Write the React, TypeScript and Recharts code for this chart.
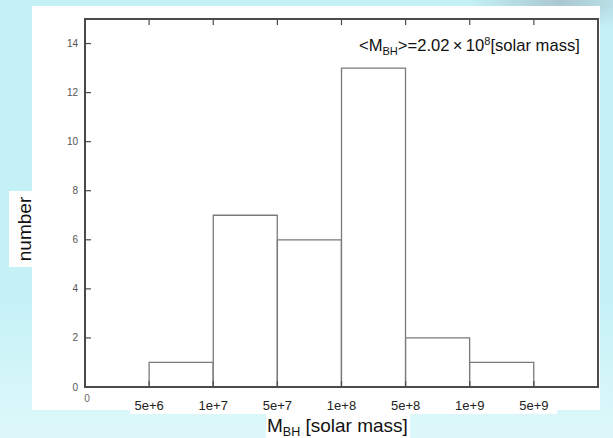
import { BarChart, Bar, XAxis, YAxis } from "recharts";

// histogram of black hole masses, bins between these edges
const BIN_EDGES = ["0", "5e+6", "1e+7", "5e+7", "1e+8", "5e+8", "1e+9", "5e+9", ""];
const COUNTS = [0, 1, 7, 6, 13, 2, 1, 0];
const Y_TICKS = [0, 2, 4, 6, 8, 10, 12, 14];
const EDGE_TICKS = [0, 1, 2, 3, 4, 5, 6, 7, 8];
const Y_MAX = 15;
const X_MAX = 8;

const data = COUNTS.map((count, i) => ({
  bin: `${BIN_EDGES[i]}-${BIN_EDGES[i + 1]}`,
  mid: i + 0.5,
  count,
}));

const FONT = "'Liberation Sans', Arial, Helvetica, sans-serif";
const AXIS = "#4a4a4a";

function BottomTick({ x, y, payload }: any) {
  const v = payload.value;
  return (
    <g>
      {v > 0 && v < 8 && (
        <line x1={x} x2={x} y1={y} y2={y - 6} stroke={AXIS} strokeWidth={1.2} />
      )}
      {v === 0 ? (
        <text x={x + 2} y={y + 15} fontSize={10} fill="#666" textAnchor="middle" fontFamily={FONT}>
          0
        </text>
      ) : (
        <text x={x} y={y + 23} fontSize={13} fill="#222" textAnchor="middle" fontFamily={FONT}>
          {BIN_EDGES[v]}
        </text>
      )}
    </g>
  );
}

function TopTick({ x, y, payload }: any) {
  const v = payload.value;
  return (
    <g>
      {v > 0 && v < 8 && (
        <line x1={x} x2={x} y1={y} y2={y + 6} stroke={AXIS} strokeWidth={1.2} />
      )}
    </g>
  );
}

function LeftTick({ x, y, payload }: any) {
  return (
    <g>
      {payload.value > 0 && (
        <line x1={x} x2={x + 6} y1={y} y2={y} stroke={AXIS} strokeWidth={1.2} />
      )}
      <text x={x - 7} y={y + 3.5} fontSize={10} fill="#555" textAnchor="end" fontFamily={FONT}>
        {payload.value}
      </text>
    </g>
  );
}

function RightTick({ x, y, payload }: any) {
  return (
    <g>
      {payload.value > 0 && (
        <line x1={x} x2={x - 6} y1={y} y2={y} stroke={AXIS} strokeWidth={1.2} />
      )}
    </g>
  );
}

export default function App() {
  return (
    <div
      style={{
        position: "fixed",
        left: 0,
        top: 0,
        width: 613,
        height: 438,
        overflow: "hidden",
        background:
          "radial-gradient(ellipse 90px 30px at 560px 2px, rgba(150,165,175,0.55), rgba(150,165,175,0) 100%), linear-gradient(to bottom, #c3f1f6 0%, #c6f2f7 70%, #def8fa 100%)",
      }}
    >
      <div style={{ position: "absolute", left: 32, top: 6, width: 568, height: 404, background: "#fff" }} />
      <div style={{ position: "absolute", left: 130, top: 400, width: 427, height: 14, background: "#fff" }} />
      <div style={{ position: "absolute", left: 266, top: 414, width: 144, height: 24, background: "#fff" }} />
      <div style={{ position: "absolute", left: 9, top: 191, width: 23, height: 76, background: "#fff" }} />

      <div style={{ position: "absolute", left: 0, top: 0 }}>
        <BarChart
          width={613}
          height={438}
          data={data}
          margin={{ top: 0, right: 0, bottom: 0, left: 0 }}
          barCategoryGap={0}
          barGap={0}
        >
          <XAxis xAxisId="cat" dataKey="bin" hide height={0} />
          <XAxis
            xAxisId="num"
            dataKey="mid"
            type="number"
            domain={[0, X_MAX]}
            ticks={EDGE_TICKS}
            allowDataOverflow
            height={51}
            tickSize={0}
            tickMargin={0}
            tickLine={false}
            axisLine={{ stroke: AXIS, strokeWidth: 1.8 }}
            tick={<BottomTick />}
            interval={0}
          />
          <XAxis
            xAxisId="top"
            orientation="top"
            dataKey="mid"
            type="number"
            domain={[0, X_MAX]}
            ticks={EDGE_TICKS}
            allowDataOverflow
            height={19}
            tickSize={0}
            tickMargin={0}
            tickLine={false}
            axisLine={{ stroke: AXIS, strokeWidth: 1.8 }}
            tick={<TopTick />}
            interval={0}
          />
          <YAxis
            yAxisId="l"
            domain={[0, Y_MAX]}
            ticks={Y_TICKS}
            width={85}
            tickSize={0}
            tickMargin={0}
            tickLine={false}
            axisLine={{ stroke: AXIS, strokeWidth: 1.8 }}
            tick={<LeftTick />}
            interval={0}
          />
          <YAxis
            yAxisId="r"
            orientation="right"
            domain={[0, Y_MAX]}
            ticks={Y_TICKS}
            width={15}
            tickSize={0}
            tickMargin={0}
            tickLine={false}
            axisLine={{ stroke: AXIS, strokeWidth: 1.8 }}
            tick={<RightTick />}
            interval={0}
          />
          <Bar
            xAxisId="cat"
            yAxisId="l"
            dataKey="count"
            fill="#fff"
            stroke="#7a7a7a"
            strokeWidth={1.3}
            isAnimationActive={false}
          />
        </BarChart>
      </div>

      {/* plot frame drawn over the chart */}
      <div
        style={{
          position: "absolute",
          left: 84,
          top: 18,
          width: 515,
          height: 370,
          boxSizing: "border-box",
          border: `2px solid ${AXIS}`,
          pointerEvents: "none",
        }}
      />

      <svg
        width={613}
        height={438}
        style={{ position: "absolute", left: 0, top: 0, pointerEvents: "none" }}
        fontFamily={FONT}
      >
        <text x={359} y={50.5} fontSize={16.6} fill="#111">
          {"<M"}
          <tspan fontSize={11} dy={4}>BH</tspan>
          <tspan dy={-4}>{">=2.02\u2009\u00d7\u200910"}</tspan>
          <tspan fontSize={11} dy={-6}>8</tspan>
          <tspan dy={6}>[solar mass]</tspan>
        </text>
        <text x={31} y={229} fontSize={19} fill="#111" textAnchor="middle" transform="rotate(-90, 31, 229)">
          number
        </text>
        <text x={267} y={432} fontSize={19} fill="#111">
          M
          <tspan fontSize={12.5} dy={3.5}>BH</tspan>
          <tspan dy={-3.5}> [solar mass]</tspan>
        </text>
      </svg>
    </div>
  );
}
